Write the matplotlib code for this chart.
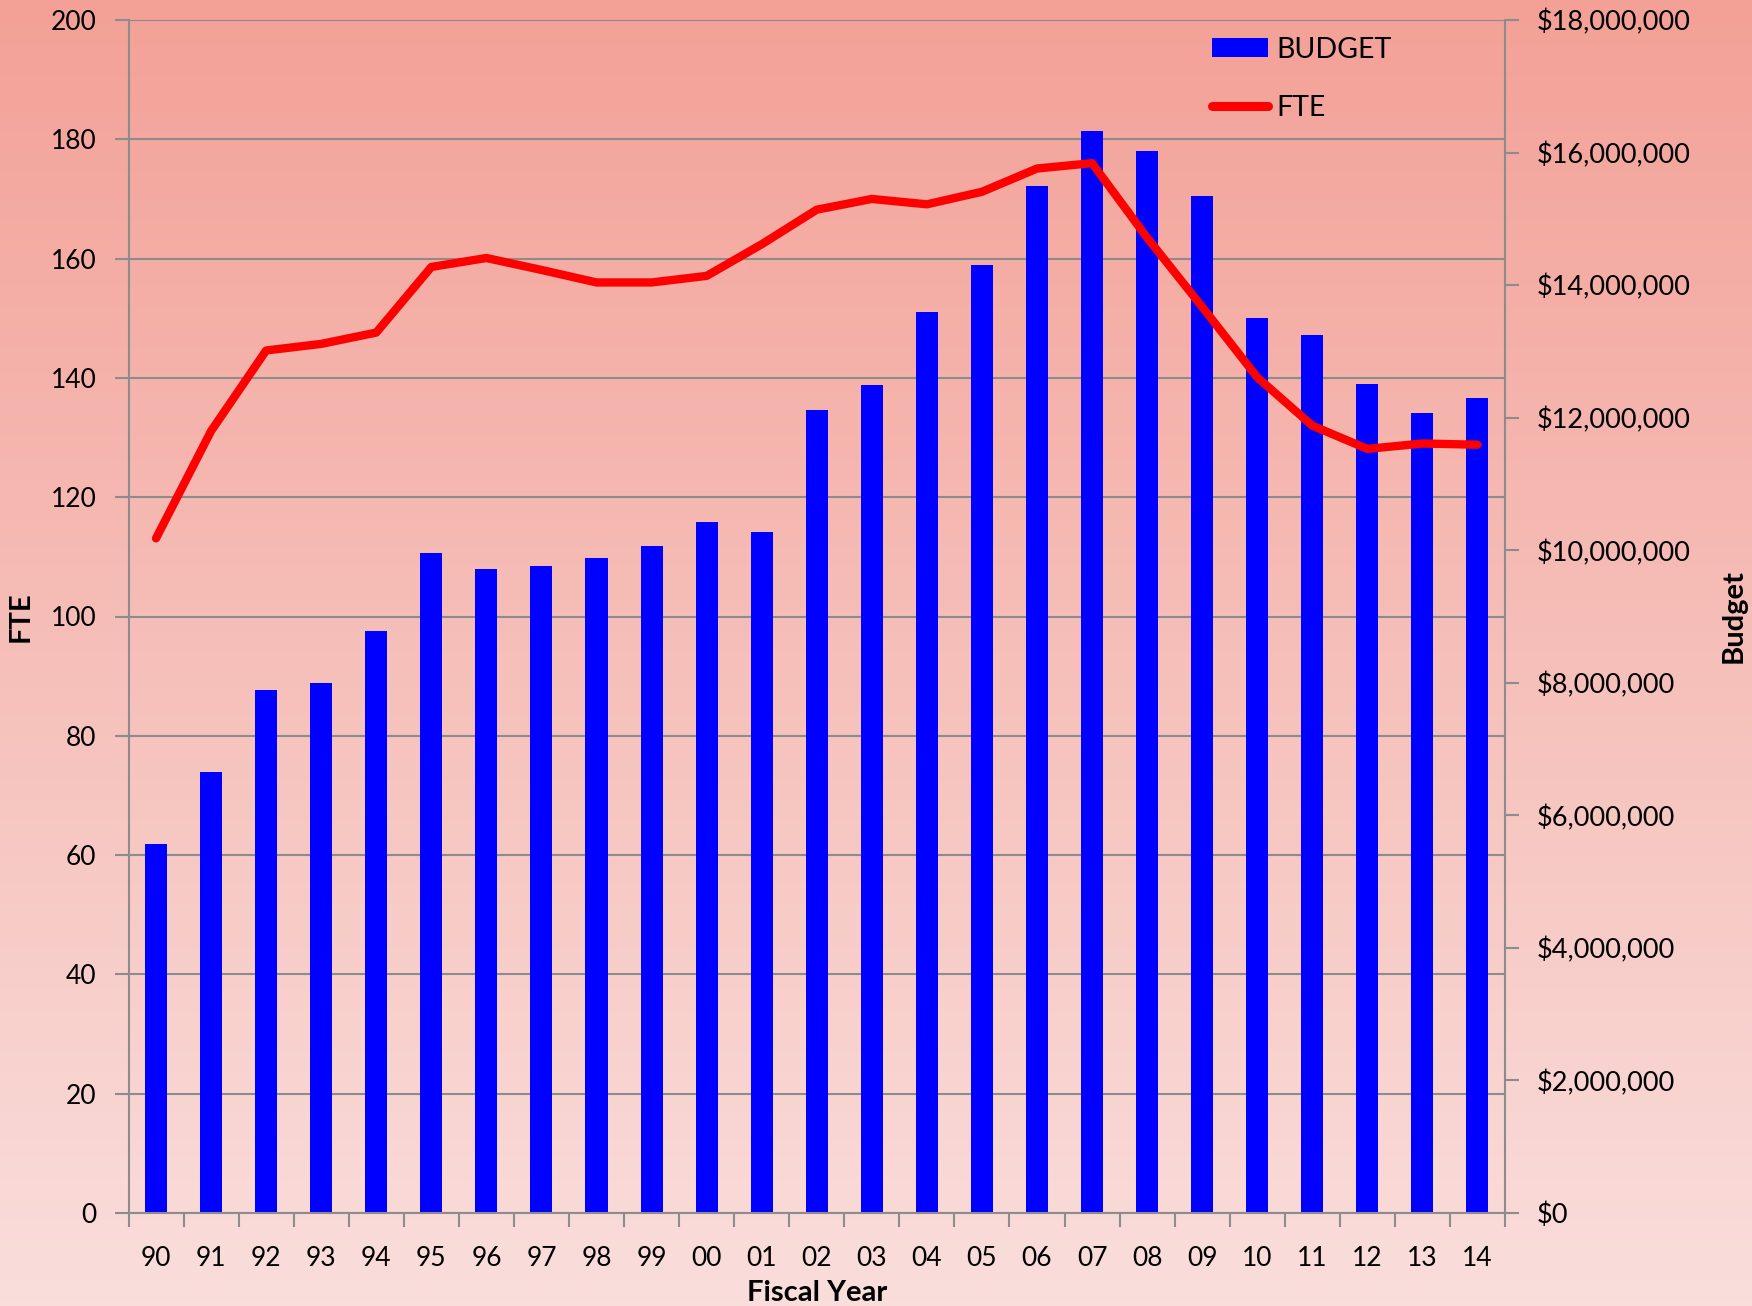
import matplotlib.pyplot as plt
from matplotlib.colors import LinearSegmentedColormap
from matplotlib.patches import Patch
from matplotlib.lines import Line2D
import numpy as np

plt.rcParams['font.family'] = ['Lato', 'DejaVu Sans']

# data
years = ["90", "91", "92", "93", "94", "95", "96", "97", "98", "99", "00", "01", "02",
         "03", "04", "05", "06", "07", "08", "09", "10", "11", "12", "13", "14"]
budget = [5.56e6, 6.66e6, 7.89e6, 7.99e6, 8.78e6, 9.96e6, 9.71e6, 9.76e6, 9.88e6, 10.06e6,
          10.42e6, 10.28e6, 12.12e6, 12.49e6, 13.60e6, 14.31e6, 15.49e6, 16.33e6, 16.03e6,
          15.35e6, 13.50e6, 13.25e6, 12.51e6, 12.07e6, 12.29e6]
fte = [113.1, 131.1, 144.6, 145.7, 147.6, 158.6, 160.1, 158.1, 156.0, 156.0, 157.1, 162.4,
       168.2, 170.0, 169.1, 171.2, 175.1, 176.0, 163.5, 151.9, 140.1, 132.0, 128.1, 129.0, 128.8]

grey = "#8c8c8c"
W, H = 1752, 1306
fig = plt.figure(figsize=(W / 100, H / 100), dpi=100)

# gradient background
bg = fig.add_axes([0, 0, 1, 1], zorder=0)
cmap = LinearSegmentedColormap.from_list("bg", ["#f3a197", "#f6bfb9", "#fadedc"])
bg.imshow(np.linspace(0, 1, 256).reshape(-1, 1), cmap=cmap, aspect="auto",
          extent=[0, 1, 0, 1])
bg.axis("off")

rect = [128.5 / W, 1 - 1213 / H, (1505 - 128.5) / W, (1213 - 20) / H]
x = np.arange(len(years))

# grid only axes (below bars)
ax_grid = fig.add_axes(rect, zorder=1)
ax_grid.patch.set_visible(False)
ax_grid.set_ylim(0, 200)
ax_grid.set_xlim(-0.5, len(years) - 0.5)
ax_grid.set_yticks(np.arange(0, 201, 20))
ax_grid.yaxis.grid(True, color=grey, lw=1.5)
ax_grid.tick_params(left=False, bottom=False, labelleft=False, labelbottom=False)
for s in ax_grid.spines.values():
    s.set_visible(False)

# budget bars (right axis)
ax_bud = fig.add_axes(rect, zorder=2)
ax_bud.patch.set_visible(False)
ax_bud.bar(x, budget, width=0.4, color="#0000ff")
ax_bud.set_xlim(-0.5, len(years) - 0.5)
ax_bud.set_ylim(0, 18e6)
ax_bud.yaxis.tick_right()
ax_bud.yaxis.set_label_position("right")
ax_bud.set_yticks(np.arange(0, 18e6 + 1, 2e6))
ax_bud.set_yticklabels(["${:,.0f}".format(v) for v in np.arange(0, 18e6 + 1, 2e6)])
ax_bud.tick_params(axis="y", length=10, width=1.5, color=grey, pad=13, labelsize=19.5)
ax_bud.tick_params(axis="x", bottom=False, labelbottom=False)
ax_bud.set_ylabel("Budget", fontsize=21, fontweight="bold")
ax_bud.yaxis.set_label_coords(1.157, 0.5)
for s in ax_bud.spines.values():
    s.set_visible(False)
ax_bud.spines["right"].set_visible(True)
ax_bud.spines["right"].set_color(grey)
ax_bud.spines["right"].set_linewidth(1.5)

# FTE line (left axis)
ax = fig.add_axes(rect, zorder=3)
ax.patch.set_visible(False)
ax.plot(x, fte, color="#ff0000", lw=6, solid_capstyle="round", solid_joinstyle="round")
ax.set_xlim(-0.5, len(years) - 0.5)
ax.set_ylim(0, 200)
ax.set_yticks(np.arange(0, 201, 20))
ax.tick_params(axis="y", length=10, width=1.5, color=grey, pad=13, labelsize=19)
ax.set_xticks(x)
ax.set_xticklabels(years)
ax.set_xticks(np.arange(-0.5, len(years), 1), minor=True)
ax.tick_params(axis="x", which="major", length=0, pad=24, labelsize=19)
ax.tick_params(axis="x", which="minor", length=10, width=1.5, color=grey)
ax.set_ylabel("FTE", fontsize=21, fontweight="bold")
ax.yaxis.set_label_coords(-0.069, 0.5)
ax.set_xlabel("Fiscal Year", fontsize=21, fontweight="bold")
ax.xaxis.set_label_coords(0.5, -0.056)
for s in ["top", "right"]:
    ax.spines[s].set_visible(False)
for s in ["left", "bottom"]:
    ax.spines[s].set_color(grey)
    ax.spines[s].set_linewidth(1.5)

handles = [Patch(facecolor="#0000ff", label="BUDGET"),
           Line2D([], [], color="#ff0000", lw=6.5, solid_capstyle="round", label="FTE")]
leg = ax.legend(handles=handles, loc="upper left", bbox_to_anchor=(0.7875, 0.986),
                fontsize=20.5, frameon=False, handlelength=1.95, handleheight=0.65,
                labelspacing=1.12, borderpad=0, borderaxespad=0, handletextpad=0.3)

fig.savefig("out.png", dpi=100)
